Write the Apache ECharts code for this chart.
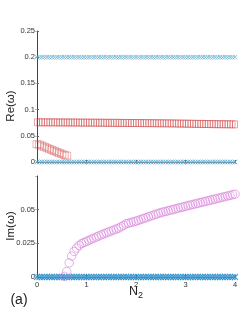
<!DOCTYPE html>
<html><head><meta charset="utf-8">
<script src="https://cdn.jsdelivr.net/npm/echarts@6/dist/echarts.min.js"></script>
<style>html,body{margin:0;padding:0;background:#fff}#c{width:249px;height:323px}</style>
</head><body><div id="c"></div>
<script>
var N2 = [0,0.05,0.1,0.15,0.2,0.25,0.3,0.35,0.4,0.45,0.5,0.55,0.6,0.65,0.7,0.75,0.8,0.85,0.9,0.95,
1,1.05,1.1,1.15,1.2,1.25,1.3,1.35,1.4,1.45,1.5,1.55,1.6,1.65,1.7,1.75,1.8,1.85,1.9,1.95,
2,2.05,2.1,2.15,2.2,2.25,2.3,2.35,2.4,2.45,2.5,2.55,2.6,2.65,2.7,2.75,2.8,2.85,2.9,2.95,
3,3.05,3.1,3.15,3.2,3.25,3.3,3.35,3.4,3.45,3.5,3.55,3.6,3.65,3.7,3.75,3.8,3.85,3.9,3.95,4];

var reBlueHigh = [0.2,0.2,0.2,0.2,0.2,0.2,0.2,0.2,0.2,0.2,0.2,0.2,0.2,0.2,0.2,0.2,0.2,0.2,0.2,0.2,
0.2,0.2,0.2,0.2,0.2,0.2,0.2,0.2,0.2,0.2,0.2,0.2,0.2,0.2,0.2,0.2,0.2,0.2,0.2,0.2,
0.2,0.2,0.2,0.2,0.2,0.2,0.2,0.2,0.2,0.2,0.2,0.2,0.2,0.2,0.2,0.2,0.2,0.2,0.2,0.2,
0.2,0.2,0.2,0.2,0.2,0.2,0.2,0.2,0.2,0.2,0.2,0.2,0.2,0.2,0.2,0.2,0.2,0.2,0.2,0.2,0.2];

var reBlueZero = [0,0,0,0,0,0,0,0,0,0,0,0,0,0,0,0,0,0,0,0,
0,0,0,0,0,0,0,0,0,0,0,0,0,0,0,0,0,0,0,0,
0,0,0,0,0,0,0,0,0,0,0,0,0,0,0,0,0,0,0,0,
0,0,0,0,0,0,0,0,0,0,0,0,0,0,0,0,0,0,0,0,0];

var reRedUpper = [0.0758,0.0758,0.0757,0.0757,0.0757,0.0756,0.0756,0.0756,0.0755,0.0755,0.0755,0.0755,0.0754,0.0754,0.0754,0.0753,0.0753,0.0753,0.0752,0.0752,
0.0752,0.0751,0.0751,0.0750,0.0750,0.0750,0.0749,0.0749,0.0748,0.0748,0.0748,0.0747,0.0747,0.0746,0.0746,0.0746,0.0745,0.0745,0.0744,0.0744,
0.0744,0.0743,0.0743,0.0742,0.0742,0.0741,0.0741,0.0740,0.0740,0.0739,0.0739,0.0738,0.0738,0.0737,0.0737,0.0736,0.0735,0.0734,0.0733,0.0732,
0.0732,0.0731,0.0730,0.0729,0.0728,0.0727,0.0727,0.0726,0.0725,0.0724,0.0724,0.0723,0.0722,0.0722,0.0721,0.0721,0.0720,0.0720,0.0719,0.0719,0.0718];

var reRedLower = [0.034,0.033,0.031,0.029,0.027,0.025,0.023,0.021,0.019,0.017,0.0155,0.0135,0.012];

var imBlueZero = [0,0,0,0,0,0,0,0,0,0,0,0,0,0,0,0,0,0,0,0,
0,0,0,0,0,0,0,0,0,0,0,0,0,0,0,0,0,0,0,0,
0,0,0,0,0,0,0,0,0,0,0,0,0,0,0,0,0,0,0,0,
0,0,0,0,0,0,0,0,0,0,0,0,0,0,0,0,0,0,0,0,0];

var imPink = [null,null,null,null,null,null,null,null,null,null,null,
0.0005,0.004,0.0105,0.0155,0.019,0.0215,0.0235,0.0248,0.0256,
0.0265,0.0273,0.0281,0.0289,0.0297,0.0305,0.0313,0.0320,0.0328,0.0335,0.0342,0.0349,0.0356,0.0363,0.0373,0.0384,0.0395,0.0400,0.0405,0.0410,
0.0415,0.0421,0.0428,0.0434,0.0440,0.0447,0.0453,0.0459,0.0466,0.0472,0.0478,0.0483,0.0487,0.0492,0.0497,0.0501,0.0506,0.0511,0.0516,0.0520,
0.0525,0.0530,0.0534,0.0539,0.0543,0.0548,0.0552,0.0557,0.0561,0.0566,0.0570,0.0575,0.0579,0.0584,0.0588,0.0593,0.0597,0.0602,0.0606,0.0611,0.0615];

var reTicks = [0, 0.05, 0.1, 0.15, 0.2, 0.25];
var imTicks = [0, 0.025, 0.05];
var xTicks = [0, 1, 2, 3, 4];

function pairs(xs, ys) {
  var out = [];
  for (var i = 0; i < ys.length; i++) if (ys[i] !== null) out.push([xs[i], ys[i]]);
  return out;
}

var cross = 'path://M0,0L10,10M10,0L0,10';
var lbl = {fontSize: 7.5, color: '#333', fontFamily: 'Liberation Sans'};

var chart = echarts.init(document.getElementById('c'), null, {renderer: 'canvas'});
chart.setOption({
  animation: false,
  grid: [
    {left: 37, top: 31, width: 198, height: 131},
    {left: 37, top: 176, width: 198, height: 101}
  ],
  xAxis: [
    {gridIndex: 0, type: 'value', min: 0, max: 4, interval: 1, position: 'bottom',
     axisLine: {show: true, lineStyle: {color: '#444'}}, axisTick: {inside: true, length: 2, lineStyle: {color: '#666'}},
     axisLabel: {show: false}, splitLine: {show: false}},
    {gridIndex: 0, type: 'value', min: 0, max: 4, interval: 1, position: 'top',
     axisLine: {show: true, lineStyle: {color: '#999'}}, axisTick: {inside: true, length: 2, lineStyle: {color: '#aaa'}},
     axisLabel: {show: false}, splitLine: {show: false}},
    {gridIndex: 1, type: 'value', min: 0, max: 4, interval: 1, position: 'bottom',
     axisLine: {show: true, lineStyle: {color: '#444'}}, axisTick: {inside: true, length: 2, lineStyle: {color: '#666'}},
     axisLabel: Object.assign({margin: 4, formatter: function (v) { return xTicks.indexOf(v) >= 0 ? String(v) : ''; }}, lbl),
     splitLine: {show: false}},
    {gridIndex: 1, type: 'value', min: 0, max: 4, interval: 1, position: 'top',
     axisLine: {show: true, lineStyle: {color: '#999'}}, axisTick: {inside: true, length: 2, lineStyle: {color: '#aaa'}},
     axisLabel: {show: false}, splitLine: {show: false}}
  ],
  yAxis: [
    {gridIndex: 0, type: 'value', min: 0, max: 0.25, interval: 0.05, position: 'left',
     axisLine: {show: true, lineStyle: {color: '#444'}}, axisTick: {inside: true, length: 2, lineStyle: {color: '#666'}},
     axisLabel: Object.assign({margin: 2, formatter: function (v) { var r = Math.round(v * 1000) / 1000; return reTicks.indexOf(r) >= 0 ? String(r) : ''; }}, lbl),
     splitLine: {show: false}},
    {gridIndex: 0, type: 'value', min: 0, max: 0.25, interval: 0.05, position: 'right',
     axisLine: {show: false}, axisTick: {show: true, inside: true, length: 2, lineStyle: {color: '#bbb'}},
     axisLabel: {show: false}, splitLine: {show: false}},
    {gridIndex: 1, type: 'value', min: 0, max: 0.075, interval: 0.025, position: 'left',
     axisLine: {show: true, lineStyle: {color: '#444'}}, axisTick: {inside: true, length: 2, lineStyle: {color: '#666'}},
     axisLabel: Object.assign({margin: 2, showMaxLabel: false, formatter: function (v) { var r = Math.round(v * 1000) / 1000; return imTicks.indexOf(r) >= 0 ? String(r) : ''; }}, lbl),
     splitLine: {show: false}},
    {gridIndex: 1, type: 'value', min: 0, max: 0.075, interval: 0.025, position: 'right',
     axisLine: {show: false}, axisTick: {show: true, inside: true, length: 2, lineStyle: {color: '#bbb'}},
     axisLabel: {show: false}, splitLine: {show: false}}
  ],
  series: [
    {type: 'scatter', xAxisIndex: 0, yAxisIndex: 0, data: pairs(N2, reBlueHigh), symbol: cross, symbolSize: 4.5,
     itemStyle: {color: 'none', borderColor: '#5eaccd', borderWidth: 0.9}},
    {type: 'scatter', xAxisIndex: 0, yAxisIndex: 0, data: pairs(N2, reBlueZero), symbol: cross, symbolSize: 4.5,
     itemStyle: {color: 'none', borderColor: '#3d9ccc', borderWidth: 0.9}},
    {type: 'scatter', xAxisIndex: 0, yAxisIndex: 0, data: pairs(N2, reRedUpper), symbol: 'rect', symbolSize: [5, 7],
     itemStyle: {color: 'none', borderColor: 'rgba(205,60,60,0.8)', borderWidth: 0.7}},
    {type: 'scatter', xAxisIndex: 0, yAxisIndex: 0, data: pairs(N2, reRedLower), symbol: 'rect', symbolSize: [8, 7],
     itemStyle: {color: 'none', borderColor: 'rgba(205,60,60,0.7)', borderWidth: 0.7}},
    {type: 'scatter', xAxisIndex: 2, yAxisIndex: 2, data: pairs(N2, imBlueZero), symbol: cross, symbolSize: 6,
     itemStyle: {color: 'none', borderColor: '#2a8dc8', borderWidth: 1.1}},
    {type: 'scatter', xAxisIndex: 2, yAxisIndex: 2, data: pairs(N2, imPink), symbol: 'circle', symbolSize: 8.5,
     itemStyle: {color: 'none', borderColor: 'rgba(210,110,215,0.85)', borderWidth: 0.8}}
  ],
  graphic: [
    {type: 'text', x: 11, y: 106, rotation: Math.PI / 2, style: {text: 'Re(ω)', fontSize: 11.5, fill: '#222', fontFamily: 'Liberation Sans', align: 'center', verticalAlign: 'middle'}},
    {type: 'text', x: 11, y: 226, rotation: Math.PI / 2, style: {text: 'Im(ω)', fontSize: 11.5, fill: '#222', fontFamily: 'Liberation Sans', align: 'center', verticalAlign: 'middle'}},
    {type: 'text', x: 136, y: 292, style: {text: 'N{s|2}', rich: {s: {fontSize: 9, fontFamily: 'Liberation Sans', fill: '#222', padding: [8, 0, 0, 0]}}, fontSize: 12.5, fill: '#222', fontFamily: 'Liberation Sans', align: 'center', verticalAlign: 'middle'}},
    {type: 'text', x: 19, y: 300, style: {text: '(a)', fontSize: 14, fill: '#222', fontFamily: 'Liberation Sans', align: 'center', verticalAlign: 'middle'}}
  ]
});
</script>
</body></html>
